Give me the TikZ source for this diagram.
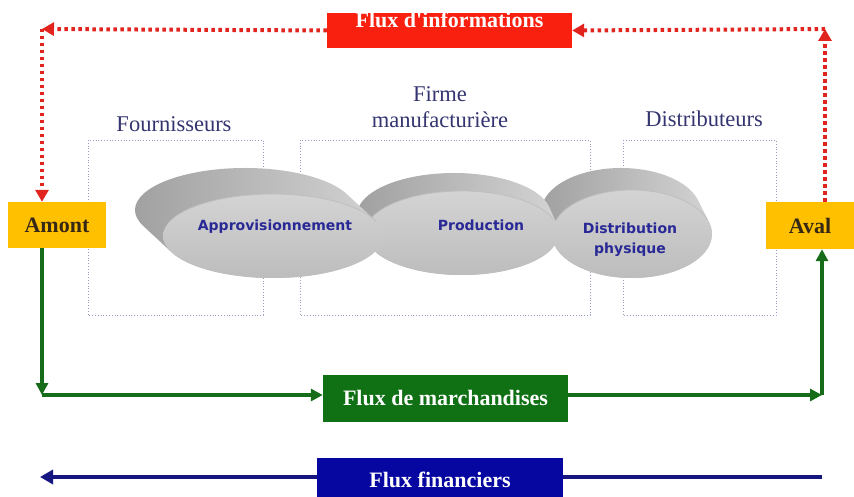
\documentclass[tikz,border=0pt]{standalone}
\usepackage{fontspec}
\setmainfont{Liberation Serif}
\newfontfamily\discfont{DejaVu Sans}
\usetikzlibrary{arrows.meta}

\definecolor{infored}{RGB}{250,32,16}
\definecolor{dotred}{RGB}{226,36,30}
\definecolor{goodsgreen}{RGB}{16,112,20}
\definecolor{linegreen}{RGB}{22,108,24}
\definecolor{cashblue}{RGB}{6,6,160}
\definecolor{lineblue}{RGB}{22,22,128}
\definecolor{endyellow}{RGB}{255,192,0}
\definecolor{endtext}{RGB}{55,40,22}
\definecolor{zonetext}{RGB}{52,52,112}
\definecolor{disctext}{RGB}{40,40,150}
\definecolor{zoneline}{RGB}{150,155,195}

\tikzset{
  flowbox/.style={text=white, inner sep=0pt,
    font=\fontsize{22}{24}\selectfont\bfseries},
  endbox/.style={fill=endyellow, text=endtext, inner sep=0pt,
    font=\fontsize{22}{24}\selectfont\bfseries},
  zone/.style={draw=zoneline, dotted, line width=0.8pt},
  zonelabel/.style={text=zonetext, align=center, inner sep=0pt,
    font=\fontsize{22.5}{26.5}\selectfont},
  disclabel/.style={text=disctext, align=center, inner sep=0pt,
    font=\discfont\fontsize{14}{19.5}\selectfont\bfseries},
  infoline/.style={draw=dotred, line width=4pt, dash pattern=on 3.5pt off 3.5pt,
    -{Triangle[length=12pt,width=13pt]}},
  goodsline/.style={draw=linegreen, line width=3.6pt,
    -{Triangle[length=12pt,width=12pt]}},
  cashline/.style={draw=lineblue, line width=4.5pt},
}

% A thick grey disc seen in perspective: #1,#2 centre of the front face,
% #3,#4 radii, #5,#6 offset of the back face.
\newcommand\greydisc[6]{%
  \pgfmathsetmacro\discT{atan(-(#4*#5)/(#3*#6))}%
  \pgfmathsetmacro\discTb{\discT-180}%
  \pgfmathsetmacro\discTc{\discT-360}%
  \begin{scope}[shift={(#1,#2)}]
    \shade[left color=black!38, right color=black!16]
      ([shift={(#5,#6)}]\discT:#3 and #4)
      arc[start angle=\discT, end angle=\discTb, x radius=#3, y radius=#4]
      -- (\discTb:#3 and #4)
      arc[start angle=\discTb, end angle=\discTc, x radius=#3, y radius=#4]
      -- cycle;
    \shade[top color=black!17, bottom color=black!26]
      (0,0) ellipse[x radius=#3, y radius=#4];
    \draw[white!75!black, line width=0.8pt]
      (200:#3 and #4) arc[start angle=200, end angle=340, x radius=#3, y radius=#4];
  \end{scope}}

\begin{document}
\begin{tikzpicture}[x=1pt, y=-1pt]
  \useasboundingbox (0,0) rectangle (854,497);
  \clip (0,0) rectangle (854,497);

  % dotted zones of the three partners
  \draw[zone] (88,140) rectangle (263,315);
  \draw[zone] (300,140) rectangle (590,315);
  \draw[zone] (623,140) rectangle (776,315);

  \node[zonelabel, anchor=base] (four) at (174,132) {Fournisseurs};
  \node[zonelabel, anchor=base] (firme) at (440,128) {Firme\\manufacturière};
  \node[zonelabel, anchor=base] (distr) at (704,127) {Distributeurs};

  % the three process discs, drawn from right to left
  \greydisc{632}{234}{80}{44}{-11}{-22}
  \greydisc{462}{233}{97}{42}{-8}{-18}
  \greydisc{273}{236}{110}{42}{-28}{-26}

  \node[disclabel, anchor=base] (appro) at (275,231) {Approvisionnement};
  \node[disclabel, anchor=base] (prod) at (481,231) {Production};
  \node[disclabel, anchor=base] (dphys) at (630,253) {Distribution\\physique};

  % flow boxes
  \node[flowbox, fill=infored, minimum width=245pt, minimum height=35pt]
    (info) at (449.5,30.5) {};
  \node[flowbox, anchor=base] (infotxt) at (449.5,28) {Flux d\textquotesingle informations};
  \node[flowbox, fill=goodsgreen, minimum width=245pt, minimum height=47pt]
    (march) at (445.5,398.5) {Flux de marchandises};
  \node[flowbox, fill=cashblue, minimum width=246pt, minimum height=44pt]
    (fin) at (440,480) {Flux financiers};

  % upstream and downstream ends
  \node[endbox, minimum width=98pt, minimum height=46pt] (amont) at (57,225) {Amont};
  \node[endbox, minimum width=88pt, minimum height=47pt] (aval) at (810,225.5) {Aval};

  % information flow
  \coordinate (infoL) at (42,29);
  \coordinate (infoR) at (825,29);
  \draw[infoline] (info.west) -- (infoL);
  \draw[infoline] (infoL) -- (infoL |- amont.north);
  \draw[infoline] (infoR |- aval.north) -- (infoR);
  \draw[infoline] (infoR) -- (info.east);

  % goods flow
  \coordinate (goodsL) at (42,395);
  \coordinate (goodsR) at (822,395);
  \draw[goodsline] (goodsL |- amont.south) -- (goodsL);
  \draw[goodsline] (goodsL) -- (goodsL -| march.west);
  \draw[goodsline] (goodsR -| march.east) -- (goodsR);
  \draw[goodsline] (goodsR) -- (goodsR |- aval.south);

  % financial flow
  \coordinate (cashL) at (40,477);
  \coordinate (cashR) at (822,477);
  \draw[cashline] (cashR) -- (cashR -| fin.east);
  \draw[cashline, -{Triangle[length=13pt,width=14pt]}] (cashL -| fin.west) -- (cashL);
\end{tikzpicture}
\end{document}
